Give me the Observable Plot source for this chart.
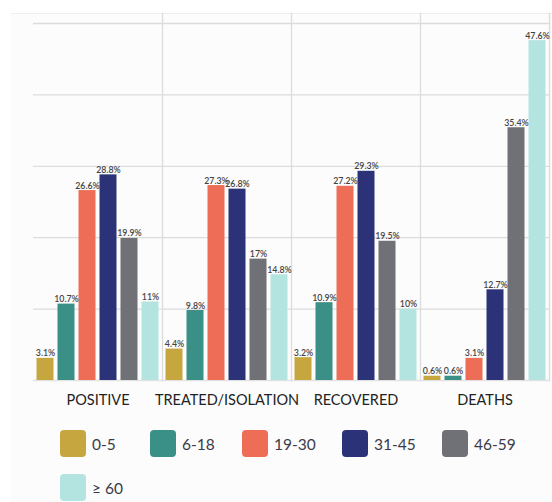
<!DOCTYPE html>
<html>
<head>
<meta charset="utf-8">
<script src="https://cdn.jsdelivr.net/npm/d3@7"></script>
<script src="https://cdn.jsdelivr.net/npm/@observablehq/plot@0.6"></script>
<style>
  html, body { margin: 0; padding: 0; background: #fff; }
  body { width: 552px; height: 502px; position: relative; overflow: hidden; font-family: Lato, "Open Sans", sans-serif; }
  #panel { position: absolute; left: 11px; top: 13px; right: 0; bottom: 0; background: #fcfcfc; border-top: 1px solid #eeeeee; }
  #chart { position: absolute; left: 0; top: 0; }
  #legend { position: absolute; left: 60px; top: 430px; width: 490px; display: flex; flex-wrap: wrap; row-gap: 17px; }
  .item { display: flex; align-items: center; }
  .sw { width: 26px; height: 27px; border-radius: 4px; flex: none; }
  .lab { margin-left: 6px; font-size: 15.5px; color: #3a3a48; white-space: nowrap; }
</style>
</head>
<body>
<div id="panel"></div>
<div id="chart"></div>
<div id="legend"></div>
<script>
const categories = ["POSITIVE", "TREATED/ISOLATION", "RECOVERED", "DEATHS"];
const ageGroups = ["0-5", "6-18", "19-30", "31-45", "46-59", "\u2265 60"];
const colors = ["#c6a73f", "#3a8f86", "#ee6d56", "#2b3278", "#707077", "#b3e4df"];
const positive = [3.1, 10.7, 26.6, 28.8, 19.9, 11];
const treated = [4.4, 9.8, 27.3, 26.8, 17, 14.8];
const recovered = [3.2, 10.9, 27.2, 29.3, 19.5, 10];
const deaths = [0.6, 0.6, 3.1, 12.7, 35.4, 47.6];
const gridTicks = [10, 20, 30, 40, 50];

const series = [positive, treated, recovered, deaths];
const data = [];
categories.forEach((c, i) => {
  ageGroups.forEach((a, j) => {
    data.push({cat: c, age: a, value: series[i][j]});
  });
});

const plot = Plot.plot({
  width: 552,
  height: 410,
  marginLeft: 32.5,
  marginRight: 3.5,
  marginTop: 13,
  marginBottom: 30,
  style: {background: "transparent", fontFamily: "Lato, 'Open Sans', sans-serif"},
  fx: {domain: categories, padding: 0, label: null},
  x: {domain: ageGroups, paddingInner: 0.19, paddingOuter: 0.1, axis: null},
  y: {domain: [0, 51.4], axis: null},
  color: {domain: ageGroups, range: colors},
  marks: [
    Plot.ruleY(gridTicks, {stroke: "#dcdcdc", strokeWidth: 1.3}),
    Plot.ruleY([0], {stroke: "#e2e2e2", strokeWidth: 1.3}),
    Plot.frame({anchor: "right", stroke: "#dcdcdc", strokeWidth: 1.3}),
    Plot.barY(data, {fx: "cat", x: "age", y: "value", fill: "age"}),
    Plot.text(data, {
      fx: "cat", x: "age", y: "value",
      text: d => d.value + "%",
      lineAnchor: "bottom", dy: -2,
      fontSize: 8.8, fontWeight: 600, fill: "#444"
    }),
    Plot.axisFx({anchor: "bottom", tickSize: 0, tickPadding: 14, fontSize: 14.5, color: "#222", label: null})
  ]
});
document.getElementById("chart").appendChild(plot);

const itemWidths = ["90px", "92px", "100px", "100px", "100px", "100px"];
const legend = document.getElementById("legend");
ageGroups.forEach((a, i) => {
  const item = document.createElement("div");
  item.className = "item";
  item.style.width = itemWidths[i];
  const sw = document.createElement("div");
  sw.className = "sw";
  sw.style.background = colors[i];
  const lab = document.createElement("span");
  lab.className = "lab";
  lab.textContent = a;
  item.appendChild(sw);
  item.appendChild(lab);
  legend.appendChild(item);
});
</script>
</body>
</html>
